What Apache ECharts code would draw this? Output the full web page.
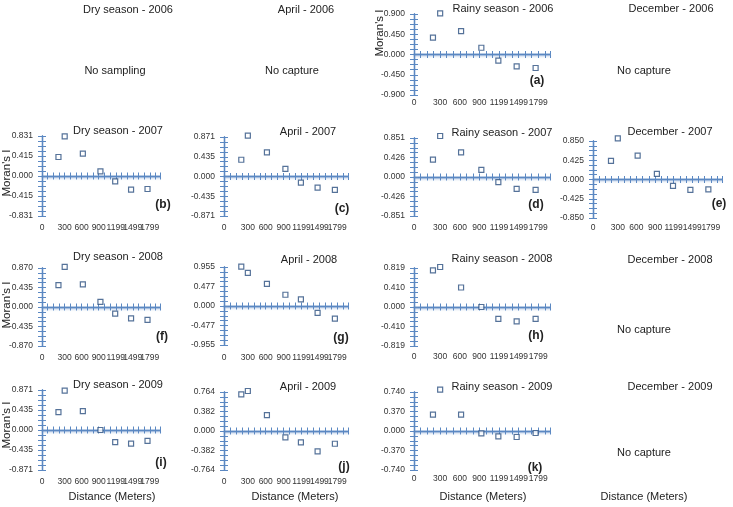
<!DOCTYPE html>
<html lang="en" style="height: 100%">
<head>
    <meta charset="utf-8">
</head>
<body style="height: 100%; margin: 0; background: #ffffff">
<div id="container" style="width: 733px; height: 507px"></div>
<script type="text/javascript" src="https://cdn.jsdelivr.net/npm/echarts@6/dist/echarts.min.js"></script>
<script type="text/javascript">

    // distance classes (meters) shared by every panel
    const distances = [190, 300, 620, 930, 1190, 1470, 1760];
    const xTickValues = [-100, 300, 600, 900, 1200, 1500, 1800];
    const xTickLabels = ['0', '300', '600', '900', '1199', '1499', '1799'];

    // Moran's I per panel
    const moranA = [0.375, 0.915, 0.518, 0.150, -0.135, -0.263, -0.300];
    const moranB = [0.395, 0.824, 0.464, 0.097, -0.111, -0.284, -0.270];
    const moranC = [0.369, 0.900, 0.531, 0.170, -0.133, -0.244, -0.295];
    const moranD = [0.381, 0.895, 0.536, 0.154, -0.110, -0.257, -0.279];
    const moranE = [0.410, 0.909, 0.528, 0.125, -0.139, -0.227, -0.220];
    const moranF = [0.488, 0.893, 0.503, 0.113, -0.150, -0.255, -0.285];
    const moranG = [0.963, 0.809, 0.542, 0.275, 0.162, -0.170, -0.307];
    const moranH = [0.769, 0.840, 0.410, 0.000, -0.251, -0.302, -0.251];
    const moranI = [0.391, 0.856, 0.413, 0.000, -0.266, -0.295, -0.236];
    const moranJ = [0.718, 0.784, 0.310, -0.125, -0.224, -0.400, -0.250];
    const moranK = [0.310, 0.784, 0.310, -0.044, -0.101, -0.114, -0.038];

    // y limits and tick labels per panel (bottom to top)
    const yLimits = [0.900, 0.831, 0.871, 0.851, 0.850, 0.870, 0.955, 0.819, 0.871, 0.764, 0.740];
    const yTickLabels = [
        ['-0.900', '-0.450', '0.000', '0.450', '0.900'],
        ['-0.831', '-0.415', '0.000', '0.415', '0.831'],
        ['-0.871', '-0.435', '0.000', '0.435', '0.871'],
        ['-0.851', '-0.426', '0.000', '0.426', '0.851'],
        ['-0.850', '-0.425', '0.000', '0.425', '0.850'],
        ['-0.870', '-0.435', '0.000', '0.435', '0.870'],
        ['-0.955', '-0.477', '0.000', '0.477', '0.955'],
        ['-0.819', '-0.410', '0.000', '0.410', '0.819'],
        ['-0.871', '-0.435', '0.000', '0.435', '0.871'],
        ['-0.764', '-0.382', '0.000', '0.382', '0.764'],
        ['-0.740', '-0.370', '0.000', '0.370', '0.740']
    ];
    const panelLetters = ['(a)', '(b)', '(c)', '(d)', '(e)', '(f)', '(g)', '(h)', '(i)', '(j)', '(k)'];

    const titles = [
        'Dry season - 2006', 'April - 2006', 'Rainy season - 2006', 'December - 2006',
        'Dry season - 2007', 'April - 2007', 'Rainy season - 2007', 'December - 2007',
        'Dry season - 2008', 'April - 2008', 'Rainy season - 2008', 'December - 2008',
        'Dry season - 2009', 'April - 2009', 'Rainy season - 2009', 'December - 2009'
    ];
    const emptyNotes = ['No sampling', 'No capture', 'No capture', 'No capture', 'No capture'];

    const moranSeries = [moranA, moranB, moranC, moranD, moranE, moranF, moranG, moranH, moranI, moranJ, moranK];

    // layout: [left, top, width, height, x label centre y]
    const panelBoxes = [
        [414, 14, 136, 81, 102.7],
        [42, 136, 118, 80, 228.3],
        [224, 137, 124, 79, 228.3],
        [414, 138, 136, 78, 228.3],
        [593, 141, 129, 77, 228.3],
        [42, 268, 118, 78, 358.3],
        [224, 267, 124, 78, 358.3],
        [414, 268, 136, 78, 357.3],
        [42, 390, 118, 80, 481.7],
        [224, 392, 124, 78, 481.7],
        [414, 392, 136, 78, 479.3]
    ];
    const titlePos = [
        [128, 10], [306, 10], [503, 9], [671, 9],
        [118, 131], [308, 132], [502, 133], [670, 132],
        [118, 257], [309, 260], [502, 259], [670, 260],
        [118, 385], [308, 387], [502, 387], [670, 387]
    ];
    const notePos = [[115, 71], [292, 71], [644, 71], [644, 330], [644, 453]];
    const letterPos = [[537, 81], [163, 205], [342, 209], [536, 205], [719, 204],
        [162, 337], [341, 338], [536, 336], [161, 463], [344, 467], [535, 468]];
    const moranLabelPos = [[380, 33], [7, 173], [7, 305], [7, 425]];
    const distanceLabelPos = [[112, 497], [295, 497], [483, 497], [644, 497]];

    const axisColor = '#5b88c2';
    const markColor = '#2b4f80';
    const textColor = '#222222';
    const fontName = '"Liberation Sans", Arial, sans-serif';

    var dom = document.getElementById('container');
    var myChart = echarts.init(dom, null, {renderer: 'canvas'});

    const grids = [];
    const xAxes = [];
    const yAxes = [];
    const series = [];

    moranSeries.forEach(function (values, i) {
        const box = panelBoxes[i];
        const yMax = yLimits[i];
        const half = yMax / 2;
        const labels = yTickLabels[i];
        const bottomY = box[1] + box[3];
        const lineStyle = {color: axisColor, width: 1.3};

        grids.push({left: box[0], top: box[1], width: box[2], height: box[3], outerBoundsMode: 'none'});

        const xBase = {
            gridIndex: i,
            type: 'value',
            min: -100,
            max: 1980,
            interval: 100,
            splitLine: {show: false},
            axisTick: {show: true, length: 3.5, lineStyle: {color: axisColor, width: 1}}
        };
        // the zero line carries the ticks, its labels sit under the plot
        xAxes.push(Object.assign({}, xBase, {
            position: 'bottom',
            axisLine: {onZero: true, lineStyle: Object.assign({
                shadowColor: 'rgba(91,136,194,0.35)', shadowBlur: 2, shadowOffsetY: 1.5
            }, lineStyle)},
            axisLabel: {
                margin: box[4] - 5 - bottomY,
                fontSize: 8.5,
                fontFamily: fontName,
                color: '#333333',
                formatter: function (value) {
                    const k = xTickValues.indexOf(value);
                    return k >= 0 ? xTickLabels[k] : '';
                }
            }
        }));
        xAxes.push(Object.assign({}, xBase, {
            position: 'top',
            axisLine: {onZero: true, lineStyle: lineStyle},
            axisLabel: {show: false}
        }));

        const yBase = {
            gridIndex: i,
            type: 'value',
            min: -yMax,
            max: yMax,
            interval: half,
            splitLine: {show: false},
            minorSplitLine: {show: false},
            axisLine: {show: true, onZero: false, lineStyle: lineStyle},
            axisTick: {show: true, length: 4, lineStyle: {color: axisColor, width: 1}},
            minorTick: {show: true, splitNumber: 4, length: 4, lineStyle: {color: axisColor, width: 1}}
        };
        yAxes.push(Object.assign({}, yBase, {
            position: 'left',
            axisLabel: {
                margin: 9,
                fontSize: 8.5,
                fontFamily: fontName,
                color: '#333333',
                formatter: function (value) {
                    return labels[Math.round(value / half) + 2];
                }
            }
        }));
        yAxes.push(Object.assign({}, yBase, {
            position: 'right',
            offset: -box[2],
            axisLabel: {show: false}
        }));

        series.push({
            type: 'scatter',
            xAxisIndex: 2 * i,
            yAxisIndex: 2 * i,
            data: values.map(function (v, k) { return [distances[k], v]; }),
            symbol: 'rect',
            symbolSize: 5,
            clip: false,
            silent: true,
            itemStyle: {color: '#ffffff', borderColor: markColor, borderWidth: 1.2}
        });
    });

    function textEl(text, pos, font, rotation) {
        return {
            type: 'text',
            x: pos[0],
            y: pos[1],
            rotation: rotation || 0,
            silent: true,
            style: {
                text: text,
                font: font,
                fill: textColor,
                textAlign: 'center',
                textVerticalAlign: 'middle'
            }
        };
    }

    const texts = [];
    titles.forEach(function (t, i) {
        texts.push(textEl(t, titlePos[i], '11px ' + fontName));
    });
    emptyNotes.forEach(function (t, i) {
        texts.push(textEl(t, notePos[i], '11px ' + fontName));
    });
    panelLetters.forEach(function (t, i) {
        texts.push(textEl(t, letterPos[i], 'bold 12px ' + fontName));
    });
    moranLabelPos.forEach(function (p) {
        texts.push(textEl("Moran's I", p, '11.5px ' + fontName, Math.PI / 2));
    });
    distanceLabelPos.forEach(function (p) {
        texts.push(textEl('Distance (Meters)', p, '11px ' + fontName));
    });

    const option = {
        animation: false,
        backgroundColor: '#ffffff',
        grid: grids,
        xAxis: xAxes,
        yAxis: yAxes,
        series: series,
        graphic: {elements: texts}
    };

    myChart.setOption(option);
    window.addEventListener('resize', myChart.resize);

</script>
</body>
</html>
